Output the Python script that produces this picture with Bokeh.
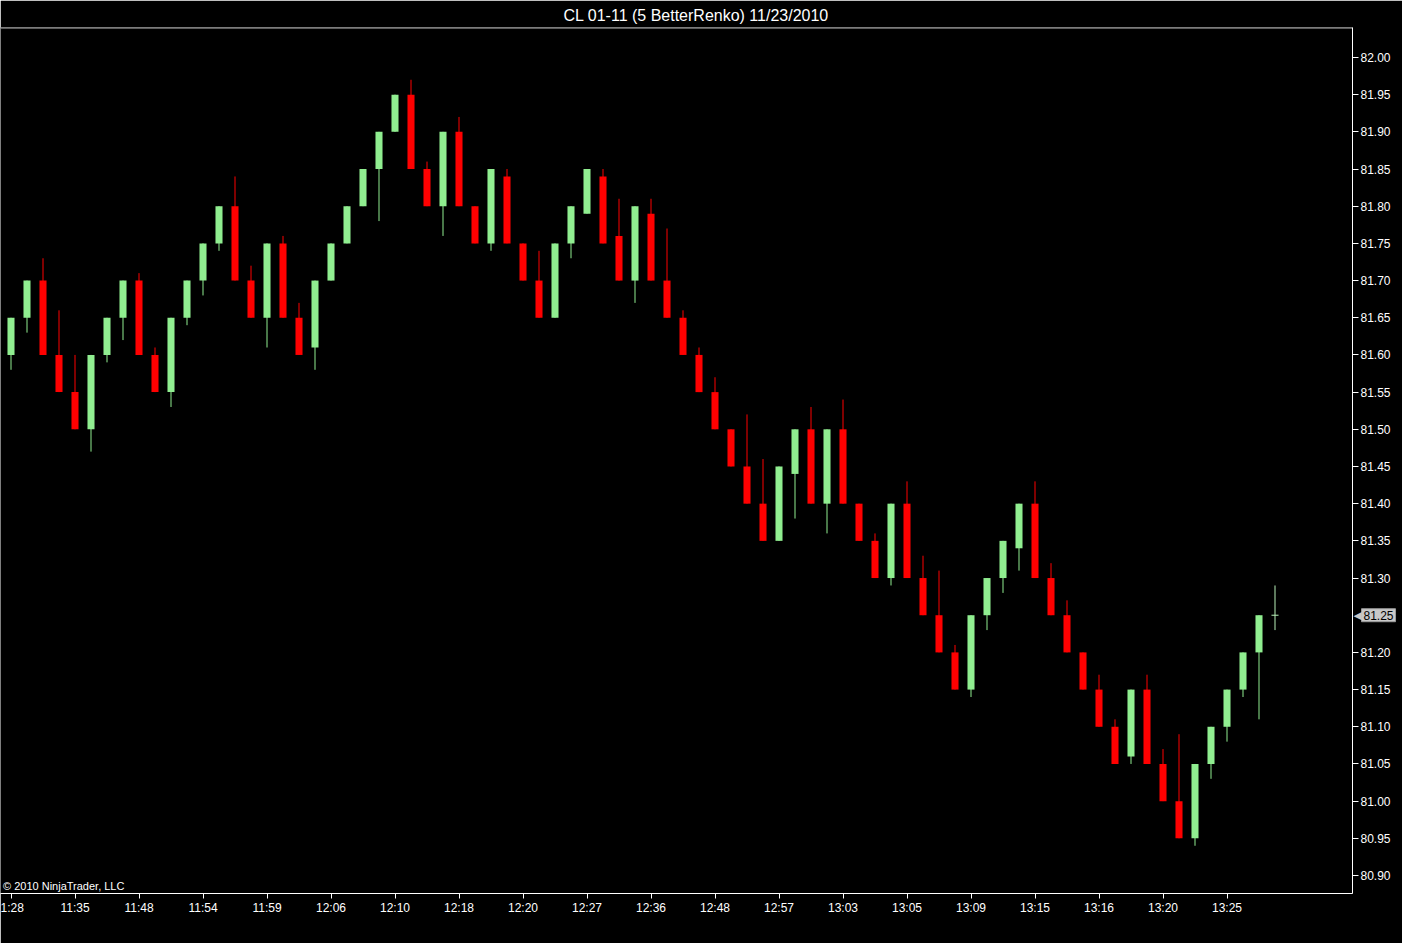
from bokeh.plotting import figure
from bokeh.models import Range1d, FixedTicker, NumeralTickFormatter, Label, Span, ColumnDataSource
from bokeh.embed import file_html
from bokeh.resources import INLINE

title_text = "CL 01-11 (5 BetterRenko)  11/23/2010"
copyright_text = "\u00a9 2010 NinjaTrader, LLC"

opens = [81.60, 81.65, 81.70, 81.60, 81.55, 81.50, 81.60, 81.65, 81.70, 81.60,
         81.55, 81.65, 81.70, 81.75, 81.80, 81.70, 81.65, 81.75, 81.65, 81.61,
         81.70, 81.75, 81.80, 81.85, 81.90, 81.95, 81.85, 81.80, 81.90, 81.80,
         81.75, 81.84, 81.75, 81.70, 81.65, 81.75, 81.79, 81.84, 81.76, 81.70,
         81.79, 81.70, 81.65, 81.60, 81.55, 81.50, 81.45, 81.40, 81.35, 81.44,
         81.50, 81.40, 81.50, 81.40, 81.35, 81.30, 81.40, 81.30, 81.25, 81.20,
         81.15, 81.25, 81.30, 81.34, 81.40, 81.30, 81.25, 81.20, 81.15, 81.10,
         81.06, 81.15, 81.05, 81.00, 80.95, 81.05, 81.10, 81.15, 81.20, 81.25]
closes = [81.65, 81.70, 81.60, 81.55, 81.50, 81.60, 81.65, 81.70, 81.60, 81.55,
          81.65, 81.70, 81.75, 81.80, 81.70, 81.65, 81.75, 81.65, 81.60, 81.70,
          81.75, 81.80, 81.85, 81.90, 81.95, 81.85, 81.80, 81.90, 81.80, 81.75,
          81.85, 81.75, 81.70, 81.65, 81.75, 81.80, 81.85, 81.75, 81.70, 81.80,
          81.70, 81.65, 81.60, 81.55, 81.50, 81.45, 81.40, 81.35, 81.45, 81.50,
          81.40, 81.50, 81.40, 81.35, 81.30, 81.40, 81.30, 81.25, 81.20, 81.15,
          81.25, 81.30, 81.35, 81.40, 81.30, 81.25, 81.20, 81.15, 81.10, 81.05,
          81.15, 81.05, 81.00, 80.95, 81.05, 81.10, 81.15, 81.20, 81.25, 81.25]
highs = [81.65, 81.70, 81.73, 81.66, 81.60, 81.60, 81.65, 81.70, 81.71, 81.61,
         81.65, 81.70, 81.75, 81.80, 81.84, 81.72, 81.75, 81.76, 81.67, 81.70,
         81.75, 81.80, 81.85, 81.90, 81.95, 81.97, 81.86, 81.90, 81.92, 81.80,
         81.85, 81.85, 81.75, 81.74, 81.75, 81.80, 81.85, 81.85, 81.81, 81.80,
         81.81, 81.77, 81.66, 81.61, 81.57, 81.50, 81.52, 81.46, 81.45, 81.50,
         81.53, 81.50, 81.54, 81.40, 81.36, 81.40, 81.43, 81.33, 81.31, 81.21,
         81.25, 81.30, 81.35, 81.40, 81.43, 81.32, 81.27, 81.20, 81.17, 81.11,
         81.15, 81.17, 81.07, 81.09, 81.05, 81.10, 81.15, 81.20, 81.25, 81.29]
lows = [81.58, 81.63, 81.60, 81.55, 81.50, 81.47, 81.59, 81.62, 81.60, 81.55,
        81.53, 81.64, 81.68, 81.74, 81.70, 81.65, 81.61, 81.65, 81.60, 81.58,
        81.70, 81.75, 81.80, 81.78, 81.90, 81.85, 81.80, 81.76, 81.80, 81.75,
        81.74, 81.75, 81.70, 81.65, 81.65, 81.73, 81.79, 81.75, 81.70, 81.67,
        81.70, 81.65, 81.60, 81.55, 81.50, 81.45, 81.40, 81.35, 81.35, 81.38,
        81.40, 81.36, 81.40, 81.35, 81.30, 81.29, 81.30, 81.25, 81.20, 81.15,
        81.14, 81.23, 81.28, 81.31, 81.30, 81.25, 81.20, 81.15, 81.10, 81.05,
        81.05, 81.05, 81.00, 80.95, 80.94, 81.03, 81.08, 81.14, 81.11, 81.23]

time_tick_bars = [0, 4, 8, 12, 16, 20, 24, 28, 32, 36, 40, 44, 48, 52, 56, 60, 64, 68, 72, 76]
time_labels = ["1:28", "11:35", "11:48", "11:54", "11:59", "12:06", "12:10", "12:18",
               "12:20", "12:27", "12:36", "12:48", "12:57", "13:03", "13:05", "13:09",
               "13:15", "13:16", "13:20", "13:25"]
price_ticks = [80.90, 80.95, 81.00, 81.05, 81.10, 81.15, 81.20, 81.30, 81.35,
               81.40, 81.45, 81.50, 81.55, 81.60, 81.65, 81.70, 81.75, 81.80, 81.85,
               81.90, 81.95, 82.00]
last_price = 81.25

UP = "#90ee90"
DOWN = "#ff0000"
FLAT = "#b8f0b8"

idx = list(range(len(opens)))
colors = [UP if c > o else (DOWN if c < o else FLAT) for o, c in zip(opens, closes)]
src = ColumnDataSource(dict(
    x=idx, o=opens, c=closes, h=highs, l=lows,
    top=[max(o, c) for o, c in zip(opens, closes)],
    bottom=[min(o, c) for o, c in zip(opens, closes)],
    color=colors,
))
doji = [i for i in idx if opens[i] == closes[i]]
doji_src = ColumnDataSource(dict(
    x0=[i - 0.22 for i in doji], x1=[i + 0.22 for i in doji],
    y=[opens[i] for i in doji], color=[colors[i] for i in doji],
))

p = figure(width=1402, height=943, output_backend="svg", toolbar_location=None,
           x_range=Range1d(-0.65625, 83.84375), y_range=Range1d(80.8758, 82.0403),
           y_axis_location="right", min_border_left=0, min_border_right=50,
           min_border_bottom=50, min_border_top=27, title=title_text)

p.background_fill_color = "black"
p.border_fill_color = "black"
p.outline_line_color = None
p.grid.visible = False

p.title.align = "left"
p.title.text_color = "white"
p.title.text_font = "Liberation Sans"
p.title.text_font_size = "16px"
p.title.text_font_style = "normal"
p.title.standoff = 8
p.title.offset = 563

p.segment(x0="x", y0="l", x1="x", y1="h", line_color="color", line_width=1, source=src)
p.vbar(x="x", width=0.44, top="top", bottom="bottom", fill_color="color",
       line_color=None, source=src)
p.segment(x0="x0", y0="y", x1="x1", y1="y", line_color="color", line_width=1, source=doji_src)

xa = p.xaxis[0]
xa.ticker = FixedTicker(ticks=time_tick_bars)
xa.major_label_overrides = {b: t for b, t in zip(time_tick_bars, time_labels)}
ya = p.yaxis[0]
ya.ticker = FixedTicker(ticks=price_ticks)
ya.formatter = NumeralTickFormatter(format="0.00")
for ax in (xa, ya):
    ax.axis_line_color = "white"
    ax.major_tick_line_color = "white"
    ax.major_tick_in = 0
    ax.major_tick_out = 5
    ax.minor_tick_line_color = None
    ax.major_label_text_color = "white"
    ax.major_label_text_font = "Liberation Sans"
    ax.major_label_text_font_size = "12px"
    ax.major_label_standoff = 2
ya.major_tick_out = 6

p.add_layout(Span(location=82.0398, dimension="width", line_color="white", line_width=1))

p.add_layout(Label(x=0.0, y=80.8775, x_offset=-8, text=copyright_text, text_color="white",
                   text_font="Liberation Sans", text_font_size="11px",
                   text_baseline="bottom", text_align="left"))

# last-price marker on the price scale (side panels are not clipped to the frame)
box = Label(x=84.40625, y=last_price, text="81.25", text_color="black",
            text_font="Liberation Sans", text_font_size="12px",
            text_baseline="middle", text_align="left",
            background_fill_color="#c8c8c8", border_line_color="#9a9a9a",
            padding=2)
p.add_layout(box, "below")
arrow = Label(x=83.90625, y=last_price, text="\u25c0", text_color="#c8c8c8",
              text_font="DejaVu Sans", text_font_size="11px",
              text_baseline="middle", text_align="left")
p.add_layout(arrow, "right")

open("out.html", "w").write(file_html(p, INLINE))
